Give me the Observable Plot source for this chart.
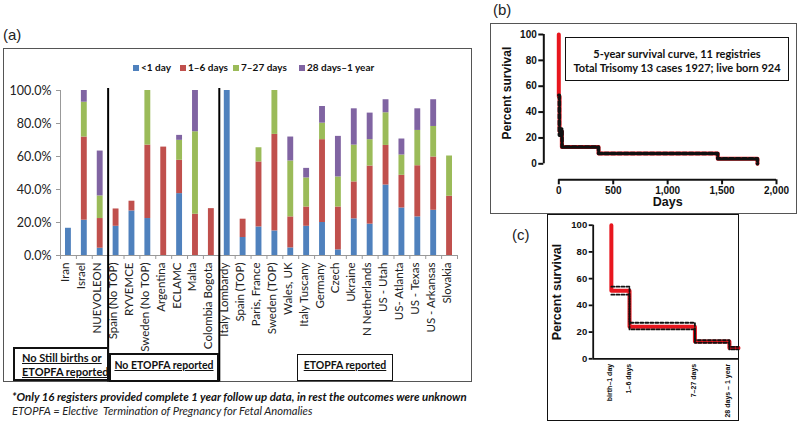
<!DOCTYPE html>
<html>
<head>
<meta charset="utf-8">
<script src="https://cdn.jsdelivr.net/npm/d3@7"></script>
<script src="https://cdn.jsdelivr.net/npm/@observablehq/plot@0.6"></script>
<style>
  html, body { margin: 0; padding: 0; background: #fff; }
  #root { position: relative; width: 800px; height: 424px; overflow: hidden; background: #fff; font-family: Lato, "Open Sans", sans-serif; color: #111; }
  .abs { position: absolute; }
  .panel-label { position: absolute; font-family: "Liberation Sans", Arial, sans-serif; font-size: 15px; color: #222; }
  .box { position: absolute; box-sizing: border-box; }
  .lg { position: absolute; font-weight: bold; font-size: 10px; line-height: 10px; white-space: nowrap; }
  .sw { display: inline-block; width: 6px; height: 6px; margin-right: 2px; vertical-align: 0px; }
  .note { position: absolute; font-weight: bold; font-size: 10.5px; text-decoration: underline; white-space: nowrap; line-height: 14px; }
</style>
</head>
<body>
<div id="root"></div>
<script>
// ---------- Data: panel (a) ----------
const sites = ["Iran","Israel","NUEVOLEON","Spain (No TOP)","RYVEMCE","Sweden (No TOP)","Argentina","ECLAMC","Malta","Colombia Bogota","Italy Lombardy","Spain (TOP)","Paris, France","Sweden (TOP)","Wales, UK","Italy Tuscany","Germany","Czech","Ukraine","N Netherlands","US - Utah","US- Atlanta","US - Texas","US - Arkansas","Slovakia"];
const ageGroups = ["<1 day","1\u20136 days","7\u201327 days","28 days\u20131 year"];
const lt1day  = [16.5,21.4,4.4,17.7,27.0,22.4,0,37.5,0,0,100,10.9,17.3,14.9,4.6,17.7,20.0,3.4,22.2,19.0,42.7,28.8,23.4,27.4,0];
const d1to6   = [0,50.4,18.0,10.5,5.9,44.5,65.7,20.2,25,28.4,0,11.1,39.4,58.5,18.8,11.7,50.2,26.0,22.4,35.2,24.0,19.8,31.0,32.3,35.9];
const d7to27  = [0,21.1,13.7,0,0,33.1,0,12.1,50,0,0,0,8.6,26.6,33.9,17.6,10.0,18.2,22.3,16.0,19.8,12.3,21.4,18.5,24.4];
const d28to1y = [0,7.1,27.2,0,0,0,0,3.0,25,0,0,0,0,0,14.5,5.8,10.1,24.6,22.0,16.1,7.9,9.7,13.1,16.2,0];
const yTicksA = [0,20,40,60,80,100];
const groupBreaks = [3, 10];

// ---------- Data: panel (b) ----------
const bDays   = [0,0,7,28,365,1460,1825,1825];
const bSurv   = [100,52,25,13,8,4,4,0];
const bDaysCI = [0,5,12,30,365,1460,1825,1825];
const bSurvCI = [53,22,27,13,8,4,4,0];
const bXTicks = [0,500,1000,1500,2000];
const survTicks = [0,20,40,60,80,100];

// ---------- Data: panel (c) ----------
const cStages   = ["birth\u20131 day","1\u20136 days","7\u201327 days","28 days \u2013 1 year"];
const cStagePos = [1, 2, 5.6, 7.5];
const cEnd = 8;
const cSurv  = [51, 24, 13, 8];
const cUpper = [54, 27, 14, 9];
const cLower = [48, 22, 12, 7];

const colors = ["#4F81BD","#C0504D","#9BBB59","#8064A2"];
const RED = "#e8161e";

const root = document.getElementById("root");
function add(html) { root.insertAdjacentHTML("beforeend", html); }
function place(el, left, top) {
  const d = document.createElement("div");
  d.className = "abs"; d.style.left = left + "px"; d.style.top = top + "px";
  d.appendChild(el); root.appendChild(d);
}

// ================= Panel (a) =================
add(`<div class="panel-label" style="left:3px;top:26px">(a)</div>`);
add(`<div class="box" style="left:3px;top:48px;width:469px;height:334px;border:1px solid #555"></div>`);

const series = [lt1day, d1to6, d7to27, d28to1y];
const rows = [];
sites.forEach((s, i) => ageGroups.forEach((g, k) => rows.push({i, site: s, group: g, value: series[k][i]})));

const plotA = Plot.plot({
  width: 468, height: 334,
  marginLeft: 57, marginTop: 42, marginRight: 14, marginBottom: 127,
  style: {fontFamily: "Lato, sans-serif", fontSize: "11.5px", background: "transparent", overflow: "visible", color: "#222"},
  x: {domain: [0, sites.length], axis: null},
  y: {domain: [0, 100], axis: null},
  color: {domain: ageGroups, range: colors},
  marks: [
    Plot.rectY(rows, {x1: "i", x2: d => d.i + 1, y: "value", fill: "group", insetLeft: 5, insetRight: 5}),
    Plot.ruleX([0], {stroke: "#999"}),
    Plot.ruleY([0], {stroke: "#999"}),
    Plot.axisY({ticks: yTicksA, tickSize: 4, tickFormat: () => "", color: "#999", label: null}),
    Plot.axisY({ticks: yTicksA, tickSize: 0, tickPadding: 9, tickFormat: d => d.toFixed(1) + "%", fill: "#222", fontSize: 12.5, label: null}),
    Plot.axisX({ticks: d3.range(0, sites.length + 1), tickSize: 4, tickFormat: () => "", color: "#999", label: null}),
    Plot.text(sites, {x: (d, i) => i + 0.5, frameAnchor: "bottom", text: d => d, rotate: -90, textAnchor: "end", dy: 7, dx: 1, fontSize: 11.5, fill: "#222"}),
    Plot.ruleX(groupBreaks, {stroke: "#000", strokeWidth: 2, insetTop: -2, insetBottom: -126.5})
  ]
});
place(plotA, 3, 48);

// legend (a)
const lgPos = [133, 180, 233, 299];
ageGroups.forEach((g, k) => {
  add(`<div class="lg" style="left:${lgPos[k]}px;top:62px"><span class="sw" style="background:${colors[k]}"></span>${g}</div>`);
});

// annotation boxes (a)
add(`<div class="box" style="left:13px;top:347px;width:96px;height:34px;border:2px solid #111"></div>`);
add(`<div class="note" style="left:22px;top:351px;font-size:11px">No Still births or<br>ETOPFA reported</div>`);
add(`<div class="box" style="left:109px;top:353px;width:110px;height:29px;border:2px solid #111"></div>`);
add(`<div class="note" style="left:109px;top:358px;width:110px;text-align:center">No ETOPFA reported</div>`);
add(`<div class="box" style="left:297px;top:354px;width:96px;height:27px;border:1px solid #111"></div>`);
add(`<div class="note" style="left:297px;top:358px;width:96px;text-align:center">ETOPFA reported</div>`);

add(`<div class="abs" style="left:12px;top:390px;font-size:11.4px;font-weight:bold;font-style:italic;white-space:nowrap">*Only 16 registers provided complete 1 year follow up data, in rest the outcomes were unknown</div>`);
add(`<div class="abs" style="left:12px;top:404px;font-size:11.2px;font-style:italic;white-space:nowrap;color:#222">ETOPFA = Elective&nbsp; Termination of Pregnancy for Fetal Anomalies</div>`);

// ================= Panel (b) =================
add(`<div class="panel-label" style="left:493px;top:1px">(b)</div>`);
add(`<div class="box" style="left:490px;top:23px;width:307px;height:191px;border:1px solid #555"></div>`);

const bMain = bDays.map((t, i) => ({t, s: bSurv[i]}));
const bCI = bDaysCI.map((t, i) => ({t, s: bSurvCI[i]}));
const axisFont = "Liberation Sans, Arial, sans-serif";

const plotB = Plot.plot({
  width: 306, height: 190,
  marginLeft: 68.3, marginRight: 20, marginTop: 11, marginBottom: 49.7,
  style: {fontFamily: axisFont, fontSize: "10px", fontWeight: "bold", background: "transparent", overflow: "visible", color: "#111"},
  x: {domain: [0, 2000], axis: null},
  y: {domain: [0, 100], axis: null},
  marks: [
    Plot.ruleX([0], {y1: 0, y2: 100, dx: -15, strokeWidth: 2, stroke: "#111"}),
    Plot.axisY({ticks: survTicks, tickSize: 5, tickPadding: 2, dx: -15, strokeWidth: 2, label: null, fontWeight: "bold"}),
    Plot.ruleY([0], {x1: 0, x2: 2000, dy: 16, strokeWidth: 2, stroke: "#111"}),
    Plot.axisX({ticks: bXTicks, tickSize: 5, tickPadding: 2, dy: 16, strokeWidth: 2, label: null, fontWeight: "bold"}),
    Plot.line(bMain, {x: "t", y: "s", curve: "step-after", stroke: RED, strokeWidth: 4}),
    Plot.line(bCI, {x: "t", y: "s", curve: "step-after", stroke: "#111", strokeWidth: 3.5, strokeDasharray: "4,2.5"}),
    Plot.text(["Percent survival"], {frameAnchor: "left", rotate: -90, textAnchor: "middle", dx: -51.6, dy: -6, fontSize: 12, fontWeight: "bold"}),
    Plot.text(["Days"], {frameAnchor: "bottom", textAnchor: "middle", dy: 42, fontSize: 12.5, fontWeight: "bold"})
  ]
});
place(plotB, 490, 23);

add(`<div class="box" style="left:565px;top:37px;width:224px;height:44px;border:1px solid #111;font-weight:bold;font-size:11px;line-height:13.5px;text-align:center;padding-top:9px">5-year survival curve, 11 registries<br>Total Trisomy 13 cases 1927; live born 924</div>`);

// ================= Panel (c) =================
add(`<div class="panel-label" style="left:512px;top:226px">(c)</div>`);
add(`<div class="box" style="left:547px;top:214px;width:192px;height:207px;border:1px solid #111"></div>`);

const cMain = [{x: cStagePos[0], s: 100}, ...cStagePos.map((x, i) => ({x, s: cSurv[i]})), {x: cEnd, s: cSurv[cSurv.length - 1]}];
const cUp = [...cStagePos.map((x, i) => ({x, s: cUpper[i]})), {x: cEnd, s: cUpper[cUpper.length - 1]}];
const cLo = [...cStagePos.map((x, i) => ({x, s: cLower[i]})), {x: cEnd, s: cLower[cLower.length - 1]}];

const plotC = Plot.plot({
  width: 190, height: 207,
  marginLeft: 44.7, marginRight: 0, marginTop: 10.7, marginBottom: 62.7,
  style: {fontFamily: axisFont, fontSize: "9.5px", fontWeight: "bold", background: "transparent", overflow: "visible", color: "#111"},
  x: {domain: [0, cEnd], axis: null},
  y: {domain: [0, 100], axis: null},
  marks: [
    Plot.ruleX([0], {y1: 0, y2: 100, strokeWidth: 1.8, stroke: "#111"}),
    Plot.axisY({ticks: survTicks, tickSize: 4, tickPadding: 2, strokeWidth: 1.8, label: null, fontWeight: "bold"}),
    Plot.ruleY([0], {strokeWidth: 1.8, stroke: "#111"}),
    Plot.line(cMain, {x: "x", y: "s", curve: "step-after", stroke: RED, strokeWidth: 4}),
    Plot.line(cUp, {x: "x", y: "s", curve: "step-after", stroke: "#111", strokeWidth: 1.8, strokeDasharray: "3,2"}),
    Plot.line(cLo, {x: "x", y: "s", curve: "step-after", stroke: "#111", strokeWidth: 1.8, strokeDasharray: "3,2"}),
    Plot.text(cStages, {x: (d, i) => cStagePos[i], frameAnchor: "bottom", text: d => d, rotate: -90, textAnchor: "end", dy: 5, dx: 1, fontSize: 7, fontWeight: "bold"}),
    Plot.text(["Percent survival"], {frameAnchor: "left", rotate: -90, textAnchor: "middle", dx: -36, fontSize: 12.5, fontWeight: "bold"})
  ]
});
place(plotC, 548, 214);
</script>
</body>
</html>
